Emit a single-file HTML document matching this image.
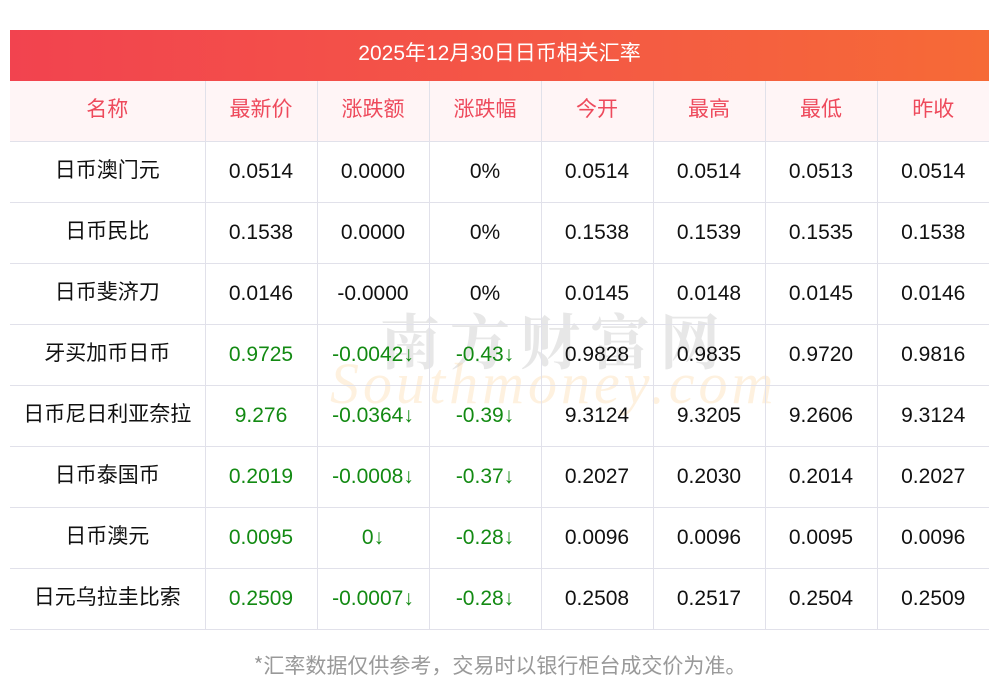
<!DOCTYPE html>
<html><head><meta charset="utf-8"><style>
body{margin:0;width:1000px;height:697px;background:#fff;font-family:"Liberation Sans","Noto Sans CJK SC",sans-serif;position:relative;overflow:hidden}
.bar{position:absolute;left:10px;top:30px;width:979px;height:51px;background:linear-gradient(90deg,#f2434f,#f45a44 60%,#f66a36);color:#fff;font-size:21px;line-height:47px;text-align:center}
table{position:absolute;left:10px;top:81px;width:979px;border-collapse:collapse;font-size:21px}
td{height:60px;border-bottom:1px solid #e1e1ea;border-left:1px solid #e1e1ea;text-align:center;padding:0;color:#111;position:relative}
td:first-child{border-left:none;font-family:"Noto Sans CJK SC",sans-serif;padding-bottom:6px;height:54px}
tr.h td{height:54px;padding-bottom:6px;background:#fff5f6;color:#ee4a5c;font-family:"Noto Sans CJK SC",sans-serif}
.g{color:#138a13}
.wm1{position:absolute;left:380px;top:296px;font-size:60px;color:rgba(160,160,160,0.25);letter-spacing:10px;font-family:"Noto Serif CJK SC",serif;font-weight:bold}
.wm2{position:absolute;left:330px;top:350px;font-size:58px;color:rgba(253,210,150,0.3);font-style:italic;font-family:"Liberation Serif",serif;letter-spacing:4px}
.foot{position:absolute;left:0;width:1000px;top:650px;text-align:center;font-size:21px;color:#999;font-family:"Noto Sans CJK SC",sans-serif}
</style></head><body>
<div class="wm1">南方财富网</div>
<div class="wm2">Southmoney.com</div>
<div class="bar">2025年12月30日日币相关汇率</div>
<table>
<colgroup><col style="width:195px"><col style="width:112px"><col style="width:112px"><col style="width:112px"><col style="width:112px"><col style="width:112px"><col style="width:112px"><col style="width:112px"></colgroup>
<tr class="h"><td>名称</td><td>最新价</td><td>涨跌额</td><td>涨跌幅</td><td>今开</td><td>最高</td><td>最低</td><td>昨收</td></tr>
<tr><td>日币澳门元</td><td>0.0514</td><td>0.0000</td><td>0%</td><td>0.0514</td><td>0.0514</td><td>0.0513</td><td>0.0514</td></tr>
<tr><td>日币民比</td><td>0.1538</td><td>0.0000</td><td>0%</td><td>0.1538</td><td>0.1539</td><td>0.1535</td><td>0.1538</td></tr>
<tr><td>日币斐济刀</td><td>0.0146</td><td>-0.0000</td><td>0%</td><td>0.0145</td><td>0.0148</td><td>0.0145</td><td>0.0146</td></tr>
<tr><td>牙买加币日币</td><td class="g">0.9725</td><td class="g">-0.0042↓</td><td class="g">-0.43↓</td><td>0.9828</td><td>0.9835</td><td>0.9720</td><td>0.9816</td></tr>
<tr><td>日币尼日利亚奈拉</td><td class="g">9.276</td><td class="g">-0.0364↓</td><td class="g">-0.39↓</td><td>9.3124</td><td>9.3205</td><td>9.2606</td><td>9.3124</td></tr>
<tr><td>日币泰国币</td><td class="g">0.2019</td><td class="g">-0.0008↓</td><td class="g">-0.37↓</td><td>0.2027</td><td>0.2030</td><td>0.2014</td><td>0.2027</td></tr>
<tr><td>日币澳元</td><td class="g">0.0095</td><td class="g">0↓</td><td class="g">-0.28↓</td><td>0.0096</td><td>0.0096</td><td>0.0095</td><td>0.0096</td></tr>
<tr><td>日元乌拉圭比索</td><td class="g">0.2509</td><td class="g">-0.0007↓</td><td class="g">-0.28↓</td><td>0.2508</td><td>0.2517</td><td>0.2504</td><td>0.2509</td></tr>
</table>
<div class="foot">*汇率数据仅供参考，交易时以银行柜台成交价为准。</div>
</body></html>
